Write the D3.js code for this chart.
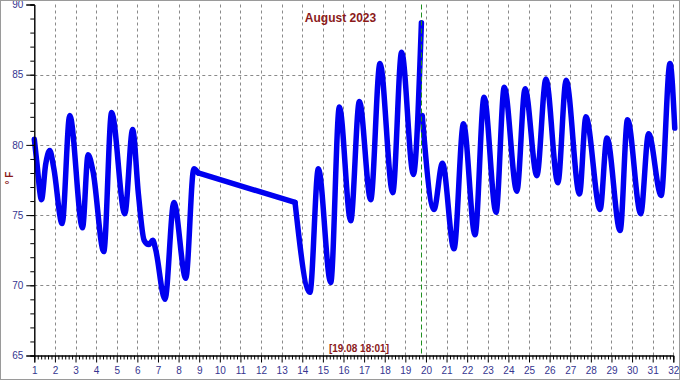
<!DOCTYPE html>
<html>
<head>
<meta charset="utf-8">
<script src="https://cdn.jsdelivr.net/npm/d3@7"></script>
<style>
html,body{margin:0;padding:0;background:#fff;}
svg{display:block;}
</style>
</head>
<body>
<svg id="chart" width="680" height="380"></svg>
<script>
// ---- data ----
const title = "August 2023";
const yLabel = "° F";
const cursorLabel = "[19.08 18:01]";
const cursorDay = 19.77;
const dayTicks = d3.range(1, 33);
const yMajorTicks = [65, 70, 75, 80, 85, 90];
const yMinorTicks = d3.range(65, 91, 1);
// time in days (1 = Aug 1, 00:00); null = break in the line
const times = [
  1.00, 1.12, 1.35, 1.55, 1.75, 1.95, 2.35, 2.72, 3.34, 3.61, 3.85, 4.37, 4.75, 5.39, 5.77,
  6.05, 6.33, 6.55, 6.75, 6.88, 7.34, 7.77, 8.35, 8.74, 8.95, 13.65, 14.37, 14.78, 15.38,
  15.80, 16.35, 16.77, 17.32, 17.77, 18.39, 18.82, 19.39, 19.78,
  null,
  19.82, 20.39, 20.80, 21.36, 21.82, 22.38, 22.82, 23.40, 23.80, 24.41, 24.81, 25.38, 25.82,
  26.40, 26.80, 27.45, 27.76, 28.45, 28.78, 29.42, 29.78, 30.42, 30.80, 31.41, 31.84, 32.07
];
const temps = [
  80.4, 78.8, 76.1, 78.6, 79.6, 78.3, 74.4, 82.1, 74.1, 79.3, 78.1, 72.4, 82.3, 75.1, 81.1,
  76.5, 73.2, 72.9, 73.2, 72.6, 69.0, 75.9, 70.5, 78.3, 78.0, 75.9, 69.5, 78.3, 70.2,
  82.7, 74.6, 83.1, 76.1, 85.8, 76.6, 86.6, 77.9, 88.7,
  null,
  82.1, 75.4, 78.7, 72.6, 81.5, 73.6, 83.4, 75.2, 84.1, 76.7, 84.0, 77.8, 84.7,
  77.3, 84.6, 76.5, 82.0, 75.4, 80.5, 73.9, 81.8, 75.1, 80.8, 76.4, 85.8, 81.2
];

// ---- layout ----
const W = 680, H = 380;
const L = 34.3, R = 673.3, T = 4.5, B = 355.5;
const svg = d3.select("#chart");
const font = "'Liberation Sans', Arial, sans-serif";
const navy = "#353590";
const darkRed = "#8b1a1a";

const x = d3.scaleLinear().domain([1, 32]).range([L, R]);
const y = d3.scaleLinear().domain([65, 90]).range([B, T]);

svg.append("rect").attr("width", W).attr("height", H).attr("fill", "#fff");

// grid
const grid = svg.append("g").attr("stroke", "#8a8a8a").attr("stroke-width", 1).attr("stroke-dasharray", "3,3");
grid.selectAll("line.v").data(dayTicks.slice(1)).join("line")
  .attr("x1", d => Math.round(x(d)) + 0.5).attr("x2", d => Math.round(x(d)) + 0.5)
  .attr("y1", T).attr("y2", B);
grid.selectAll("line.h").data([70, 75, 80, 85]).join("line")
  .attr("y1", d => Math.round(y(d)) + 0.5).attr("y2", d => Math.round(y(d)) + 0.5)
  .attr("x1", L).attr("x2", R);

// data line: split into pieces at breaks (null) and at long data gaps (> 1 day, drawn straight)
const pts = times.map((t, i) => ({t: t, v: temps[i]}));
const pieces = [];
let cur = [];
const gaps = [];
pts.forEach(p => {
  if (p.t === null) { if (cur.length) pieces.push(cur); cur = []; return; }
  if (cur.length && p.t - cur[cur.length - 1].t > 1) {
    gaps.push([cur[cur.length - 1], p]);
    pieces.push(cur); cur = [];
  }
  cur.push(p);
});
if (cur.length) pieces.push(cur);

const smooth = d3.line().x(d => x(d.t)).y(d => y(d.v)).curve(d3.curveMonotoneX);
const straight = d3.line().x(d => x(d.t)).y(d => y(d.v));
const lineG = svg.append("g").attr("fill", "none").attr("stroke", "#0000f0")
  .attr("stroke-width", 5.5).attr("stroke-linejoin", "round").attr("stroke-linecap", "round");
lineG.selectAll("path.s").data(pieces).join("path").attr("d", smooth);
lineG.selectAll("path.g").data(gaps).join("path").attr("d", straight);

// cursor line
svg.append("line")
  .attr("x1", Math.round(x(cursorDay)) + 0.5).attr("x2", Math.round(x(cursorDay)) + 0.5)
  .attr("y1", T).attr("y2", B)
  .attr("stroke", "#1f8f1f").attr("stroke-width", 1).attr("stroke-dasharray", "5,3");

// y axis
const yMinor = d3.axisLeft(y).tickValues(yMinorTicks).tickSize(4).tickFormat("");
const gyMin = svg.append("g").attr("transform", `translate(${L},0)`).call(yMinor);
const yMajor = d3.axisLeft(y).tickValues(yMajorTicks).tickSize(8).tickPadding(3).tickFormat(d3.format("d"));
const gy = svg.append("g").attr("transform", `translate(${L},0)`).call(yMajor);
[gyMin, gy].forEach(g => {
  g.select(".domain").attr("stroke", "#000");
  g.selectAll(".tick line").attr("stroke", "#000");
});
gy.selectAll(".tick text").attr("fill", navy).attr("font-family", font).attr("font-size", 10);

// x axis
const xMinorTicks = d3.range(1, 32.001, 1 / 6).filter(d => Math.abs(d - Math.round(d)) > 1e-6);
const xMinor = d3.axisBottom(x).tickValues(xMinorTicks).tickSize(4).tickFormat("");
const gxMin = svg.append("g").attr("transform", `translate(0,${B})`).call(xMinor);
const xMajor = d3.axisBottom(x).tickValues(dayTicks).tickSize(7).tickPadding(4).tickFormat(d3.format("d"));
const gx = svg.append("g").attr("transform", `translate(0,${B})`).call(xMajor);
[gxMin, gx].forEach(g => {
  g.select(".domain").attr("stroke", "#000");
  g.selectAll(".tick line").attr("stroke", "#000");
});
gx.selectAll(".tick text").attr("fill", navy).attr("font-family", font).attr("font-size", 10);

// title
svg.append("text").attr("x", 340.5).attr("y", 22).attr("text-anchor", "middle")
  .attr("font-family", font).attr("font-weight", "bold").attr("font-size", 12)
  .attr("fill", darkRed).text(title);

// cursor label
svg.append("text").attr("x", 359).attr("y", 352).attr("text-anchor", "middle")
  .attr("font-family", font).attr("font-weight", "bold").attr("font-size", 10)
  .attr("fill", darkRed).text(cursorLabel);

// y label
svg.append("text").attr("transform", "translate(13,178) rotate(-90)").attr("text-anchor", "middle")
  .attr("font-family", font).attr("font-weight", "bold").attr("font-size", 10)
  .attr("fill", darkRed).text(yLabel);

// frame
svg.append("rect").attr("x", 0.5).attr("y", 0.5).attr("width", W - 1).attr("height", H - 1)
  .attr("fill", "none").attr("stroke", "#9a9a9a");
</script>
</body>
</html>
